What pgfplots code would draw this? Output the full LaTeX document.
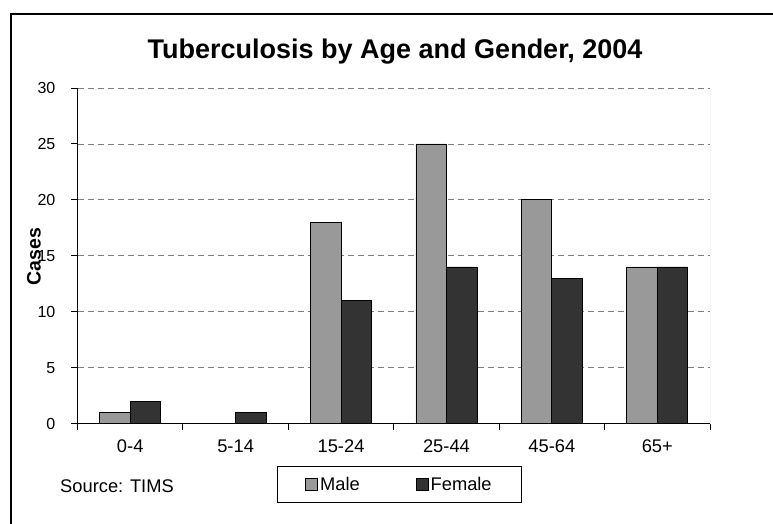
\documentclass[border=0pt]{standalone}
\usepackage{fontspec}
\setmainfont{Liberation Sans}
\usepackage{pgfplots}
\pgfplotsset{compat=1.18}
\definecolor{male}{HTML}{999999}
\definecolor{female}{HTML}{333333}
\newcommand\labfont{\fontsize{18.3pt}{21pt}\selectfont}
\newcommand\yfont{\fontsize{16pt}{19pt}\selectfont}
\begin{document}
\begin{tikzpicture}
\useasboundingbox (0pt,0pt) rectangle (773pt,523pt);
\draw[line width=2pt] (11pt,-20pt) -- (11pt,509pt) -- (800pt,509pt);
\node[anchor=base, font=\bfseries\fontsize{27pt}{30pt}\selectfont] at (395pt,464pt) {Tuberculosis by Age and Gender, 2004};
\node[anchor=base, rotate=90, font=\bfseries\fontsize{19.5pt}{22pt}\selectfont] at (40.5pt,266.5pt) {Cases};
\node[anchor=base west, font=\labfont, inner sep=0pt] at (60pt,31pt) {Source: TIMS};
\begin{axis}[
  at={(77.5pt,99.5pt)}, anchor=south west,
  scale only axis, width=632.5pt, height=335.5pt,
  xmin=-0.5, xmax=5.5, ymin=0, ymax=30,
  ytick={0,5,...,30},
  /pgf/number format/assume math mode=true,
  axis lines*=left,
  axis line style={line width=1pt, black},
  tick align=outside,
  major tick length=6pt,
  tick style={black, line width=1pt},
  xtick={-0.5,0.5,...,5.5}, xticklabels={},
  extra x ticks={0,1,2,3,4,5},
  extra x tick labels={0-4,5-14,15-24,25-44,45-64,65+},
  extra x tick style={major tick length=0pt, tick label style={yshift=-12.5pt}},
  xticklabel style={font=\labfont},
  yticklabel style={font=\yfont, inner sep=0pt, anchor=east, xshift=-16pt},
  ymajorgrids,
  grid style={black!50, line width=0.8pt, dash pattern=on 6pt off 4pt},
  ybar=0pt, bar width=30.5pt,
  legend columns=2,
  legend style={at={(axis description cs:0.3154,-0.128)}, anchor=north west,
    draw=black, line width=0.8pt, font=\labfont, inner xsep=28pt, inner ysep=8.5pt,
    /tikz/every even column/.append style={column sep=54pt}},
]
\addplot[fill=male, draw=black, line width=0.8pt,
  legend image code/.code={\draw[fill=male, draw=black, line width=0.8pt] (0pt,-6pt) rectangle (12pt,6pt);}]
  coordinates {(0,1) (1,0) (2,18) (3,25) (4,20) (5,14)};
\addlegendentry{Male}
\addplot[fill=female, draw=black, line width=0.8pt,
  legend image code/.code={\draw[fill=female, draw=black, line width=0.8pt] (0pt,-6pt) rectangle (12pt,6pt);}]
  coordinates {(0,2) (1,1) (2,11) (3,14) (4,13) (5,14)};
\addlegendentry{Female}
\draw[black!35, line width=1pt] (rel axis cs:1,0) -- (rel axis cs:1,1);
\end{axis}
\end{tikzpicture}
\end{document}
